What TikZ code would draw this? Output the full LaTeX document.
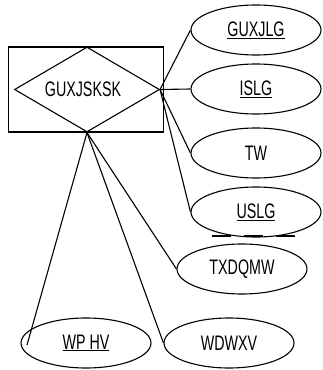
\documentclass[tikz,border=0pt]{standalone}
\usepackage{fontspec}
\usepackage{graphicx}
\setmainfont{Liberation Sans}
\newcommand{\sqz}[1]{\scalebox{0.68}[1]{#1}}
\usetikzlibrary{shapes.geometric}
\begin{document}
\begin{tikzpicture}[x=1pt,y=-1pt,line width=1.1pt,
  lbl/.style={font=\fontsize{21}{21}\selectfont},
  attr/.style={draw,ellipse,minimum width=130pt,minimum height=50pt,inner sep=0pt,lbl}]
\useasboundingbox (0,0) rectangle (323,370);
\node[draw,rectangle,minimum width=155pt,minimum height=85pt,inner sep=0pt] (rel) at (86,89.5) {};
\node[draw,diamond,minimum width=145pt,minimum height=85pt,inner sep=0pt] (dia) at (87,89.5) {};
\node[lbl,inner sep=0pt] (dlbl) at (83,89) {\sqz{GUXJSKSK}};
\node[attr] (a1) at (256,30) {\sqz{\underline{GUXJLG}}};
\node[attr] (a2) at (256,89) {\sqz{\underline{ISLG}}};
\node[attr] (a3) at (256,153) {\sqz{TW}};
\node[attr] (a4) at (256,212) {\sqz{\underline{USLG}}};
\node[attr] (a5) at (242,269) {\sqz{TXDQMW}};
\node[attr] (a6) at (86,343) {\sqz{\underline{WP HV}}};
\node[attr] (a7) at (229,343) {\sqz{WDWXV}};
\coordinate (e6) at (27,345);
\coordinate (d1) at (212,236);
\coordinate (d2) at (299,236);
\draw (dia.east) -- (a1.west);
\draw (dia.east) -- (a2.west);
\draw (dia.east) -- (a3.west);
\draw (dia.east) -- (a4.west);
\draw (dia.south) -- (a5.west);
\draw (dia.south) -- (a7.west);
\draw (dia.south) -- (e6);
\draw[dash pattern=on 19pt off 13pt] (d1) -- (d2);
\end{tikzpicture}
\end{document}
